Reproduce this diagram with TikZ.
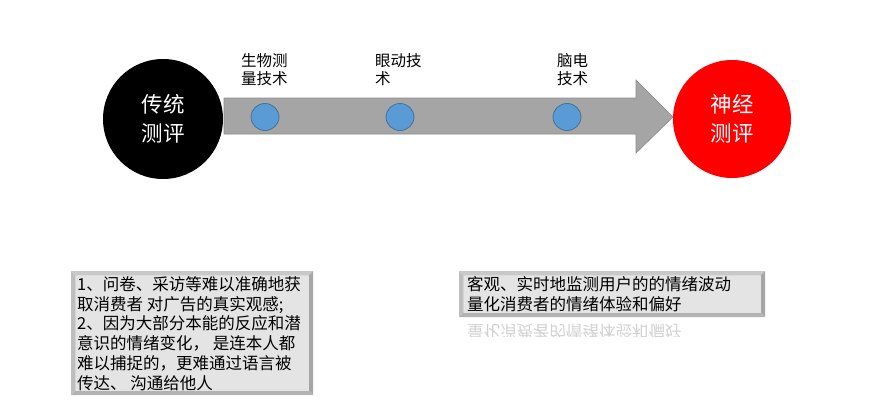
\documentclass[tikz,border=0pt]{standalone}
\usepackage{fontspec}
\setmainfont{Noto Sans CJK SC}
\definecolor{arrowgray}{HTML}{A5A5A5}
\definecolor{arrowedge}{HTML}{8C8C8C}
\definecolor{dotblue}{HTML}{5B9BD5}
\definecolor{dotedge}{HTML}{41719C}
\definecolor{bvtop}{HTML}{C9C9C9}
\definecolor{bvleft}{HTML}{BEBEBE}
\definecolor{bvright}{HTML}{A6A6A6}
\definecolor{bvbottom}{HTML}{B3B3B3}
\definecolor{bvface}{HTML}{E4E4E4}
\newcommand{\mybevel}[4]{%
  \fill[bvtop] (#1,#2) -- (#3,#2) -- (#3-4.5,#2+4.5) -- (#1+4.5,#2+4.5) -- cycle;
  \fill[bvleft] (#1,#2) -- (#1+4.5,#2+4.5) -- (#1+4.5,#4-4.5) -- (#1,#4) -- cycle;
  \fill[bvright] (#3,#2) -- (#3,#4) -- (#3-4.5,#4-4.5) -- (#3-4.5,#2+4.5) -- cycle;
  \fill[bvbottom] (#1,#4) -- (#3,#4) -- (#3-4.5,#4-4.5) -- (#1+4.5,#4-4.5) -- cycle;
  \fill[bvface] (#1+4.5,#2+4.5) rectangle (#3-4.5,#4-4.5);
}
\tikzset{
  bigcircle/.style={circle, minimum size=120pt, inner sep=0pt, text=white, align=center,
    font=\fontsize{21.5}{29}\selectfont},
  dot/.style={ellipse, minimum width=28pt, minimum height=27pt, inner sep=0pt, fill=dotblue, draw=dotedge, line width=0.8pt},
  techlabel/.style={anchor=base west, inner sep=0pt, align=left, font=\fontsize{15.5}{18}\selectfont},
  boxtext/.style={anchor=base west, inner sep=0pt, align=left, font=\fontsize{16.5}{19.7}\selectfont},
}
\usetikzlibrary{shapes.geometric}
\begin{document}
\begin{tikzpicture}[x=1pt,y=-1pt]
\useasboundingbox (0,0) rectangle (889,400);
\fill[white] (0,0) rectangle (889,400);
% left circle
\node[bigcircle, fill=black] (trad) at (163,119) {传统\\测评};
% arrow
\draw[fill=arrowgray, draw=arrowedge, line width=0.6pt]
  (224,98) -- (636,98) -- (636,80) -- (673,117) -- (636,153) -- (636,134) -- (224,134) -- cycle;
% right circle
\node[bigcircle, fill=red, minimum size=118pt] (neuro) at (732,119) {神经\\测评};
% dots
\node[dot] (d1) at (265,117) {};
\node[dot] (d2) at (400,117) {};
\node[dot] (d3) at (567,117) {};
% labels (anchor = baseline of last line)
\node[techlabel] (l1) at (241,84) {生物测\\量技术};
\node[techlabel] (l2) at (375,84) {眼动技\\术};
\node[techlabel] (l3) at (557,84) {脑电\\技术};
% box 1
\mybevel{71}{271}{313}{395}
\node[boxtext] (t1) at (77,389) {1、问卷、采访等难以准确地获\\取消费者 对广告的真实观感;\\2、因为大部分本能的反应和潜\\意识的情绪变化， 是连本人都\\难以捕捉的，更难通过语言被\\传达、 沟通给他人};
% box 2
\mybevel{459}{271}{765}{317}
\node[boxtext] (t2) at (467,310.5) {客观、实时地监测用户的的情绪波动\\量化消费者的情绪体验和偏好};
% reflection
\begin{scope}
\clip (459,320) rectangle (765,336);
\begin{scope}[shift={(467,318)}, yscale=-1, transform shape]
\node[boxtext, opacity=0.18] (refl) at (0,-7) {量化消费者的情绪体验和偏好};
\end{scope}
\end{scope}
\end{tikzpicture}
\end{document}
